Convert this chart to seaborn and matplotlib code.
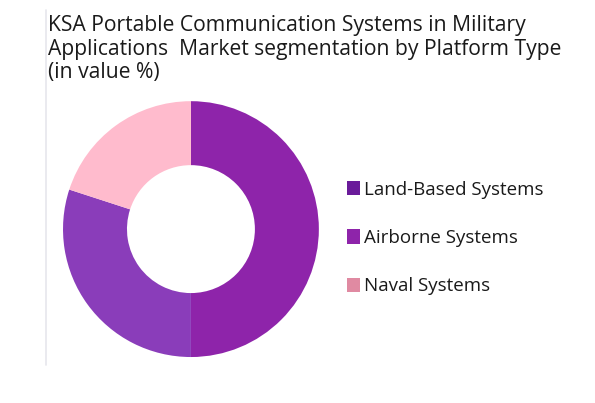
import matplotlib
matplotlib.use("Agg")

import matplotlib.pyplot as plt
import seaborn as sns
from matplotlib.patches import Patch
from matplotlib.lines import Line2D

# ---------------------------------------------------------
# Data
# ---------------------------------------------------------

segments = ["Land-Based Systems", "Airborne Systems", "Naval Systems"]
shares = [50, 30, 20]

pie_colors = ["#8E24AA", "#8A3DBA", "#FFBBCD"]
legend_colors = ["#6A1B9A", "#8E24AA", "#E08AA2"]

title = ("KSA Portable Communication Systems in Military\n"
         "Applications  Market segmentation by Platform Type\n"
         "(in value %)")

# ---------------------------------------------------------
# Plot
# ---------------------------------------------------------

sns.set_theme(style="white")
plt.rcParams["font.family"] = ["Open Sans", "DejaVu Sans"]

fig = plt.figure(figsize=(5.95, 4.03), dpi=100)
fig.patch.set_facecolor("white")

ax = fig.add_axes([0.1059, 0.114, 0.430, 0.635])
ax.pie(
    shares,
    colors=pie_colors,
    startangle=90,
    counterclock=False,
    radius=1,
    wedgeprops=dict(width=0.5, linewidth=0),
)
ax.set_xlim(-1, 1)
ax.set_ylim(-1, 1)
ax.set_aspect("equal")
ax.axis("off")

# thin grey line on the left
fig.add_artist(Line2D([46 / 595, 46 / 595], [1 - 10 / 403, 1 - 365 / 403],
                      color="#E6E6EC", linewidth=1.2))

fig.text(48 / 595, 1 - 15 / 403, title, ha="left", va="top",
         fontsize=15.2, color="#1A1A1A", linespacing=1.17)

handles = [Patch(facecolor=c, edgecolor="none") for c in legend_colors]
fig.legend(
    handles,
    segments,
    loc="center left",
    bbox_to_anchor=(330 / 595, 1 - 238 / 403),
    frameon=False,
    fontsize=13.5,
    handlelength=0.7,
    handleheight=0.8,
    handletextpad=0.2,
    labelspacing=1.62,
    labelcolor="#1A1A1A",
)

fig.savefig("out.png", dpi=100, facecolor="white")
plt.close()
